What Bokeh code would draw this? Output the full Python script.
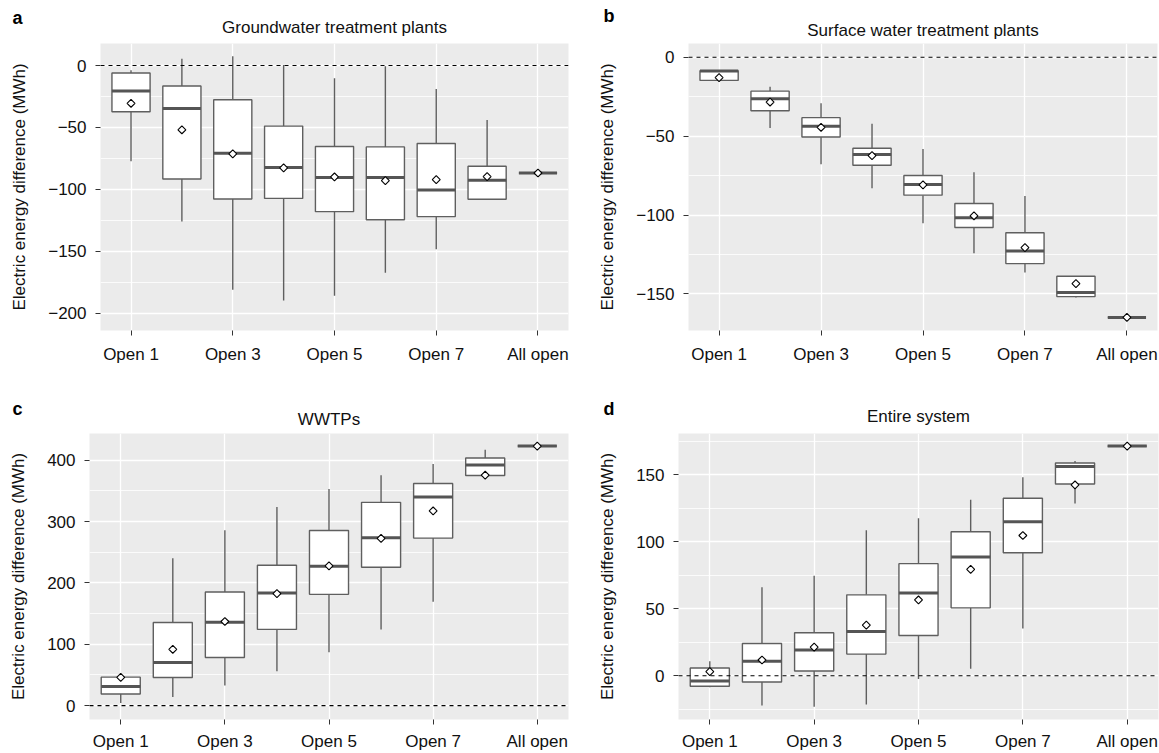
import numpy as np
from bokeh.plotting import figure
from bokeh.models import ColumnDataSource, Range1d, FixedTicker, Span
from bokeh.core.properties import value
from bokeh.layouts import column, row
from bokeh.embed import file_html
from bokeh.resources import INLINE

# ---------------- data ----------------
categories = ["Open 1", "Open 2", "Open 3", "Open 4", "Open 5", "Open 6", "Open 7", "Open 8", "All open"]
labeled_categories = ["Open 1", "Open 3", "Open 5", "Open 7", "All open"]
y_axis_title = "Electric energy difference (MWh)"
panel_letters = ["a", "b", "c", "d"]
panel_titles = ["Groundwater treatment plants", "Surface water treatment plants", "WWTPs", "Entire system"]

# a: Groundwater treatment plants
gw_low  = [-77.3, -126.0, -181.0, -189.7, -186.0, -167.3, -148.4, -108.0, -86.8]
gw_q1   = [-37.3, -91.6, -107.8, -107.3, -118.0, -124.6, -122.0, -108.0, -86.8]
gw_med  = [-20.5, -34.6, -70.8, -82.4, -90.5, -90.5, -100.5, -92.7, -86.8]
gw_q3   = [-6.0, -16.5, -27.6, -48.9, -65.4, -65.7, -63.0, -81.4, -86.8]
gw_high = [-3.8, 5.4, 7.6, 0.5, -10.3, -0.5, -18.9, -44.0, -86.8]
gw_mean = [-30.5, -51.9, -71.4, -82.7, -90.0, -93.0, -92.2, -89.7, -86.8]
gw_major = [-200, -150, -100, -50, 0]
gw_minor = [-175, -125, -75, -25]

# b: Surface water treatment plants
sw_low  = [-14.7, -44.9, -67.8, -83.0, -105.3, -124.3, -136.5, -152.3, -164.9]
sw_q1   = [-14.7, -33.9, -50.6, -68.5, -87.4, -107.9, -130.8, -151.7, -164.9]
sw_med  = [-8.8, -26.3, -43.8, -61.7, -80.7, -101.7, -122.8, -149.1, -164.9]
sw_q3   = [-8.6, -21.5, -38.3, -57.7, -75.0, -92.7, -111.2, -138.8, -164.9]
sw_high = [-8.6, -18.7, -29.1, -42.1, -58.1, -72.9, -88.0, -138.8, -164.9]
sw_mean = [-12.9, -28.4, -44.4, -62.4, -80.9, -100.5, -120.7, -143.5, -164.9]
sw_major = [-150, -100, -50, 0]
sw_minor = [-125, -75, -25]

# c: WWTPs
ww_low  = [4.3, 14.0, 32.9, 56.1, 86.9, 124.2, 169.5, 375.2, 423.2]
ww_q1   = [18.9, 45.9, 78.3, 124.2, 181.4, 225.6, 273.1, 375.2, 423.2]
ww_med  = [31.3, 70.2, 136.0, 183.5, 227.3, 273.7, 340.0, 392.4, 423.2]
ww_q3   = [46.4, 135.5, 185.2, 228.9, 285.6, 331.4, 362.2, 403.8, 423.2]
ww_high = [46.4, 240.2, 286.0, 323.9, 353.0, 375.7, 394.0, 417.3, 423.2]
ww_mean = [45.9, 91.8, 137.1, 182.5, 227.8, 272.6, 317.4, 375.7, 423.2]
ww_major = [0, 100, 200, 300, 400]
ww_minor = [50, 150, 250, 350]

# d: Entire system
es_low  = [-8.7, -22.3, -23.1, -21.6, -2.5, 5.2, 35.2, 128.4, 171.3]
es_q1   = [-7.9, -4.7, 3.5, 16.1, 30.0, 50.6, 91.7, 143.0, 171.3]
es_med  = [-4.0, 10.7, 19.1, 33.0, 61.7, 88.5, 114.8, 156.0, 171.3]
es_q3   = [5.7, 24.0, 32.0, 60.3, 83.6, 107.4, 132.4, 158.7, 171.3]
es_high = [10.7, 66.0, 74.6, 108.6, 117.5, 131.2, 148.0, 160.2, 171.3]
es_mean = [3.0, 11.7, 21.3, 37.7, 56.5, 79.3, 104.6, 142.3, 171.3]
es_major = [0, 50, 100, 150]
es_minor = [-25, 25, 75, 125, 175]

# ---------------- style ----------------
FONT = "Liberation Sans"
BG = "#EBEBEB"
BOX_LINE = "#5f5f5f"
BOX_W = 0.75
W = 1159

def fmt(v):
    return str(int(v)).replace("-", "\u2212")

def make_panel(lo, q1, med, q3, hi, mean, yr, ymaj, ymin, width, height, mb, xstandoff):
    pos = np.arange(1, len(categories) + 1)
    src = ColumnDataSource(dict(
        x=pos, lo=lo, q1=q1, med=med, q3=q3, hi=hi, mean=mean,
        x0=pos - BOX_W / 2, x1=pos + BOX_W / 2))
    p = figure(width=width, height=height, output_backend="svg", toolbar_location=None,
               x_range=Range1d(0.4, len(categories) + 0.6), y_range=Range1d(*yr),
               min_border_left=mb[0], min_border_right=mb[1],
               min_border_top=mb[2], min_border_bottom=mb[3])
    p.background_fill_color = BG
    p.border_fill_color = "white"
    p.outline_line_color = None

    tick_pos = [categories.index(c) + 1 for c in labeled_categories]
    xt = FixedTicker(ticks=tick_pos)
    yt = FixedTicker(ticks=ymaj, minor_ticks=ymin)
    p.xaxis.ticker = xt
    p.yaxis.ticker = yt
    p.xaxis.major_label_overrides = {t: c for t, c in zip(tick_pos, labeled_categories)}
    p.yaxis.major_label_overrides = {v: fmt(v) for v in ymaj}
    for ax in (p.xaxis, p.yaxis):
        ax.axis_line_color = None
        ax.major_tick_line_color = "#333333"
        ax.major_tick_out = 5
        ax.major_tick_in = 0
        ax.minor_tick_line_color = None
        ax.major_label_text_font = FONT
        ax.major_label_text_font_size = "17px"
        ax.major_label_text_color = "#111111"
    p.xaxis.major_label_standoff = xstandoff
    p.yaxis.major_label_standoff = 9
    p.yaxis.axis_label = y_axis_title
    p.yaxis.axis_label_text_font = FONT
    p.yaxis.axis_label_text_font_size = "17px"
    p.yaxis.axis_label_text_font_style = "normal"
    p.yaxis.axis_label_text_color = "#111111"
    p.yaxis.axis_label_standoff = 16

    p.xgrid.ticker = xt
    p.ygrid.ticker = yt
    p.xgrid.grid_line_color = "white"
    p.xgrid.grid_line_width = 1.3
    p.ygrid.grid_line_color = "white"
    p.ygrid.grid_line_width = 1.3
    p.ygrid.minor_grid_line_color = "white"
    p.ygrid.minor_grid_line_width = 0.8

    p.segment(x0="x", y0="q3", x1="x", y1="hi", source=src, line_color=BOX_LINE, line_width=1.4)
    p.segment(x0="x", y0="q1", x1="x", y1="lo", source=src, line_color=BOX_LINE, line_width=1.4)
    p.vbar(x="x", width=BOX_W, bottom="q1", top="q3", source=src,
           fill_color="white", line_color=BOX_LINE, line_width=1.4)
    p.segment(x0="x0", y0="med", x1="x1", y1="med", source=src,
              line_color="#555555", line_width=3)
    p.add_layout(Span(location=0, dimension="width", line_color="black",
                      line_width=1.1, line_dash="4 4"))
    r = p.scatter(x="x", y="mean", source=src, marker="square", angle=np.pi / 4, size=5.6,
                  fill_color="white", line_color="black", line_width=1.1)
    r.level = "overlay"
    return p

def make_header(height, titles, title_x, title_y, letters, letter_x, letter_y):
    h = figure(width=W, height=height, output_backend="svg", toolbar_location=None,
               x_range=Range1d(0, W), y_range=Range1d(height, 0),
               x_axis_type=None, y_axis_type=None,
               min_border_left=0, min_border_right=0, min_border_top=0, min_border_bottom=0)
    h.outline_line_color = None
    h.background_fill_color = "white"
    h.border_fill_color = "white"
    h.text(x=title_x, y=title_y, text=titles, text_font=value(FONT),
           text_font_size=value("17px"), text_color="#111111",
           text_align="center", text_baseline="middle")
    h.text(x=letter_x, y=letter_y, text=letters, text_font=value(FONT),
           text_font_size=value("18px"), text_font_style=value("bold"), text_color="black",
           text_align="left", text_baseline="middle")
    return h

pa = make_panel(gw_low, gw_q1, gw_med, gw_q3, gw_high, gw_mean,
                (-214, 17.8), gw_major, gw_minor, 580, 333, (100, 12, 0, 46), 9)
pb = make_panel(sw_low, sw_q1, sw_med, sw_q3, sw_high, sw_mean,
                (-173.2, 8.7), sw_major, sw_minor, 579, 333, (108, 2, 0, 46), 9)
pc = make_panel(ww_low, ww_q1, ww_med, ww_q3, ww_high, ww_mean,
                (-22.7, 443.7), ww_major, ww_minor, 580, 320, (89, 12, 0, 32), 7)
pd_ = make_panel(es_low, es_q1, es_med, es_q3, es_high, es_mean,
                 (-32.7, 180.7), es_major, es_minor, 579, 320, (98, 1, 0, 32), 7)

top_header = make_header(43, panel_titles[:2], [334, 922.5], [26.5, 29.5],
                         panel_letters[:2], [12, 603], [17, 15.5])
bottom_header = make_header(57, panel_titles[2:], [328.5, 918], [42.5, 39.5],
                            panel_letters[2:], [12, 603], [32, 32])

layout = column(top_header, row(pa, pb, spacing=0), bottom_header, row(pc, pd_, spacing=0), spacing=0)
open("out.html", "w").write(file_html(layout, INLINE))
